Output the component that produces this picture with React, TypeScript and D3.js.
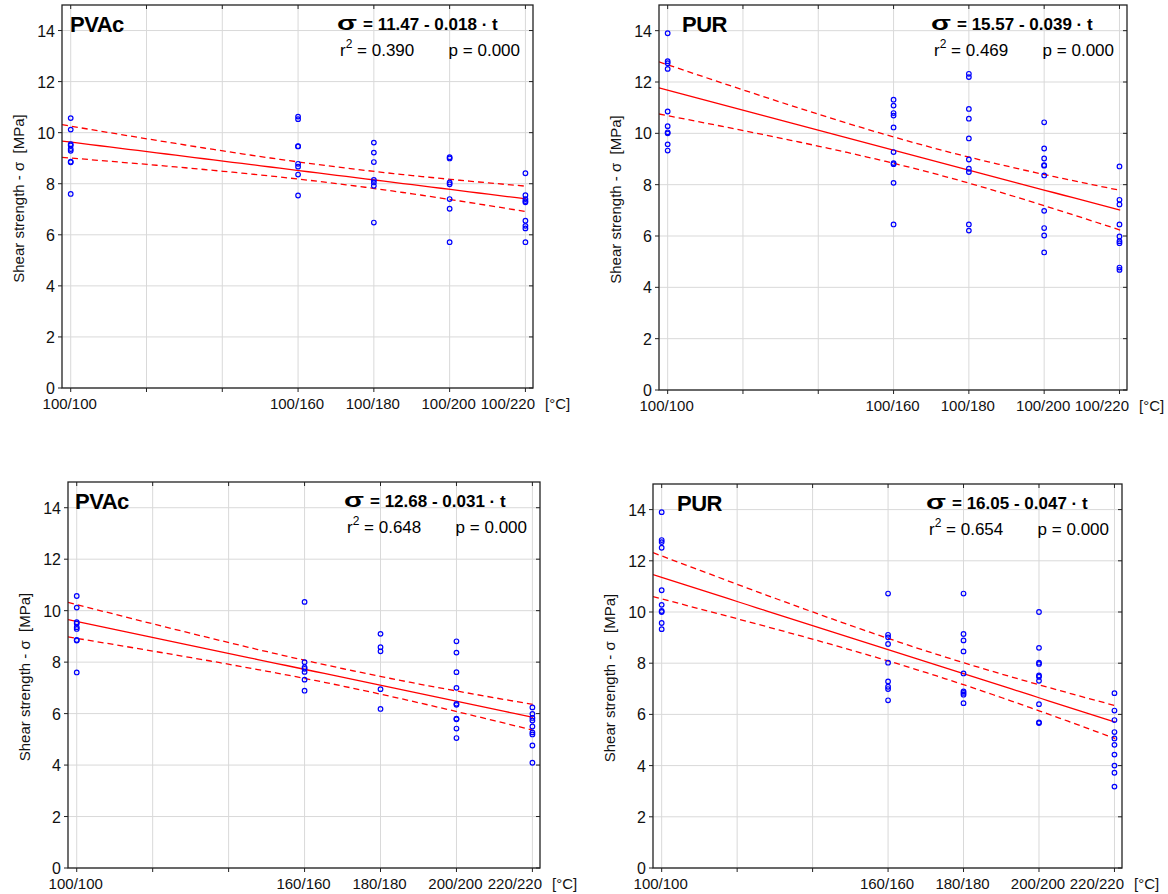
import React from 'react';
import * as d3 from 'd3';

const W = 1168;
const H = 894;
const FONT = '"Liberation Sans", Arial, Helvetica, sans-serif';

// x positions (second temperature, degC) and grid
const temps = [100, 160, 180, 200, 220];
const xGrid = [100, 120, 140, 160, 180, 200, 220];
const yTicks = [0, 2, 4, 6, 8, 10, 12, 14];
const topLabels = ['100/100', '100/160', '100/180', '100/200', '100/220'];
const bottomLabels = ['100/100', '160/160', '180/180', '200/200', '220/220'];

// control samples (100/100)
const pvacControl = [10.57, 10.12, 9.55, 9.5, 9.36, 9.29, 8.86, 8.84, 7.6];
const purControl = [13.9, 12.81, 12.73, 12.51, 10.85, 10.28, 10.04, 10.0, 9.57, 9.33];

// PVAc, 100/t
const pvacTop = [
  pvacControl,
  [10.63, 10.53, 9.47, 9.46, 8.78, 8.67, 8.36, 7.54],
  [9.61, 9.22, 8.85, 8.15, 8.05, 7.92, 6.48],
  [9.04, 8.99, 8.05, 7.98, 7.4, 7.02, 5.71],
  [8.41, 7.55, 7.4, 7.32, 7.27, 6.55, 6.35, 6.25, 5.71],
];
// PUR, 100/t
const purTop = [
  purControl,
  [11.31, 11.08, 10.79, 10.69, 10.23, 9.27, 8.84, 8.8, 8.07, 6.45],
  [12.32, 12.19, 10.95, 10.57, 9.8, 8.98, 8.62, 8.49, 6.45, 6.21],
  [10.43, 9.41, 9.02, 8.76, 8.74, 8.36, 6.98, 6.31, 6.02, 5.36],
  [8.71, 7.41, 7.23, 6.45, 5.98, 5.8, 5.72, 4.77, 4.68],
];
// PVAc, t/t
const pvacBottom = [
  pvacControl,
  [10.34, 8.0, 7.8, 7.74, 7.62, 7.32, 6.89],
  [9.1, 8.58, 8.42, 6.95, 6.18],
  [8.81, 8.37, 7.61, 7.0, 6.38, 6.34, 5.8, 5.78, 5.42, 5.05],
  [6.24, 5.99, 5.83, 5.73, 5.5, 5.27, 5.19, 4.76, 4.09],
];
// PUR, t/t
const purBottom = [
  purControl,
  [10.72, 9.11, 9.01, 8.75, 8.02, 7.29, 7.08, 6.99, 6.55],
  [10.72, 9.14, 8.89, 8.46, 7.6, 6.9, 6.84, 6.77, 6.44],
  [10.0, 8.6, 8.02, 7.97, 7.52, 7.47, 7.31, 6.4, 5.69, 5.66],
  [6.83, 6.15, 5.78, 5.31, 5.06, 4.81, 4.43, 4.0, 3.72, 3.18],
];

// fitted line sigma = a + b*t (as drawn)
const intercepts = [11.48, 15.57, 12.68, 16.05];
const slopes = [-0.0185, -0.0389, -0.031, -0.047];

const titles = ['PVAc', 'PUR', 'PVAc', 'PUR'];
const equations = ['= 11.47 - 0.018 \u00b7 t', '= 15.57 - 0.039 \u00b7 t', '= 12.68 - 0.031 \u00b7 t', '= 16.05 - 0.047 \u00b7 t'];
const r2Values = ['0.390', '0.469', '0.648', '0.654'];
const pValues = ['0.000', '0.000', '0.000', '0.000'];

type Box = { l: number; r: number; t: number; b: number; titleDx: number };

const boxes: Box[] = [
  { l: 62, r: 533, t: 5, b: 388, titleDx: 8 },
  { l: 659, r: 1127, t: 5, b: 390, titleDx: 23 },
  { l: 68, r: 540, t: 482, b: 868, titleDx: 7 },
  { l: 653, r: 1122, t: 484, b: 868, titleDx: 24 },
];

// 95% confidence band around the line, from the residuals
function band(groups: number[][], a: number, b: number) {
  const xs: number[] = [];
  const ys: number[] = [];
  groups.forEach((g, i) => g.forEach(v => { xs.push(temps[i]); ys.push(v); }));
  const n = xs.length;
  const mx = d3.mean(xs)!;
  const sxx = d3.sum(xs, v => (v - mx) ** 2);
  const sse = d3.sum(xs, (v, i) => (ys[i] - (a + b * v)) ** 2);
  const s = Math.sqrt(sse / (n - 2));
  const tc = 2.01;
  return (xv: number) => tc * s * Math.sqrt(1 / n + (xv - mx) ** 2 / sxx);
}

function Panel({ idx, groups, labels }: { idx: number; groups: number[][]; labels: string[] }) {
  const box = boxes[idx];
  const x = d3.scaleLinear().domain([97.7, 222]).range([box.l, box.r]);
  const y = d3.scaleLinear().domain([0, 15]).range([box.b, box.t]);
  const a = intercepts[idx];
  const b = slopes[idx];
  const fit = (t: number) => a + b * t;
  const half = band(groups, a, b);
  const xs = d3.range(97.7, 222.01, 2.5);
  const fitPath = d3.line<number>().x(d => x(d)).y(d => y(fit(d)))(xs)!;
  const upPath = d3.line<number>().x(d => x(d)).y(d => y(fit(d) + half(d)))(xs)!;
  const loPath = d3.line<number>().x(d => x(d)).y(d => y(fit(d) - half(d)))(xs)!;
  const clipId = `clip${idx}`;
  const midY = (box.t + box.b) / 2;

  return (
    <g>
      <defs>
        <clipPath id={clipId}>
          <rect x={box.l} y={box.t} width={box.r - box.l} height={box.b - box.t} />
        </clipPath>
      </defs>
      {/* grid */}
      {xGrid.map(v => (
        <line key={'gx' + v} x1={x(v)} x2={x(v)} y1={box.t} y2={box.b} stroke="#d9d9d9" strokeWidth={1} />
      ))}
      {yTicks.map(v => (
        <line key={'gy' + v} x1={box.l} x2={box.r} y1={y(v)} y2={y(v)} stroke="#d9d9d9" strokeWidth={1} />
      ))}
      {/* regression & confidence band */}
      <g clipPath={`url(#${clipId})`} fill="none" stroke="#ff0000" strokeWidth={1.3}>
        <path d={fitPath} />
        <path d={upPath} strokeDasharray="6,4" />
        <path d={loPath} strokeDasharray="6,4" />
      </g>
      {/* points */}
      {groups.map((g, i) =>
        g.map((v, j) => (
          <circle key={`p${i}-${j}`} cx={x(temps[i])} cy={y(v)} r={2.3} fill="none" stroke="#0000ff" strokeWidth={1.2} />
        ))
      )}
      {/* frame */}
      <rect x={box.l} y={box.t} width={box.r - box.l} height={box.b - box.t} fill="none" stroke="#222" strokeWidth={1.3} />
      {/* ticks */}
      {yTicks.map(v => (
        <g key={'ty' + v}>
          <line x1={box.l - 4} x2={box.l} y1={y(v)} y2={y(v)} stroke="#222" />
          <line x1={box.r - 4} x2={box.r} y1={y(v)} y2={y(v)} stroke="#222" />
          <text x={box.l - 7} y={y(v) + 6} textAnchor="end" fontSize={16} fontFamily={FONT} fill="#111">{v}</text>
        </g>
      ))}
      {xGrid.map(v => (
        <g key={'tx' + v}>
          <line x1={x(v)} x2={x(v)} y1={box.b} y2={box.b + 4} stroke="#222" />
          <line x1={x(v)} x2={x(v)} y1={box.t} y2={box.t + 4} stroke="#222" />
        </g>
      ))}
      {temps.map((t, i) => {
        const last = i === temps.length - 1;
        return (
          <text key={'lx' + t} x={last ? box.r + 2 : x(t) - 1} y={box.b + 21} textAnchor={last ? 'end' : 'middle'}
            fontSize={15} fontFamily={FONT} fill="#111">{labels[i]}</text>
        );
      })}
      <text x={box.r + 12} y={box.b + 21} fontSize={15} fontFamily={FONT} fill="#111">[°C]</text>
      {/* y axis title */}
      <text transform={`translate(${box.l - 38},${midY + 2}) rotate(-90)`} textAnchor="middle" fontSize={15}
        fontFamily={FONT} fill="#111">{'Shear strength - \u03c3\u00a0\u00a0[MPa]'}</text>
      {/* panel title */}
      <text x={box.l + box.titleDx} y={box.t + 27} fontSize={22} fontWeight="bold" fontFamily={FONT} fill="#000"
        letterSpacing={-0.5}>{titles[idx]}</text>
      {/* equation */}
      <text x={box.r - 196} y={box.t + 25} fontSize={20} fontWeight="bold" fontFamily={FONT} fill="#000"
        textLength={20} lengthAdjust="spacingAndGlyphs">σ</text>
      <text x={box.r - 170} y={box.t + 25} fontSize={17} fontWeight="bold" fontFamily={FONT} fill="#000">
        {equations[idx]}
      </text>
      <text x={box.r - 193} y={box.t + 51} fontSize={17} fontFamily={FONT} fill="#000">
        r<tspan fontSize={12} dy={-8}>2</tspan><tspan dy={8}> = {r2Values[idx]}</tspan>
      </text>
      <text x={box.r - 13} y={box.t + 51} textAnchor="end" fontSize={17} fontFamily={FONT} fill="#000">
        p = {pValues[idx]}
      </text>
    </g>
  );
}

export default function App() {
  return (
    <svg width={W} height={H} style={{ position: 'absolute', left: 0, top: 0, background: '#fff' }}>
      <rect width={W} height={H} fill="#fff" />
      <Panel idx={0} groups={pvacTop} labels={topLabels} />
      <Panel idx={1} groups={purTop} labels={topLabels} />
      <Panel idx={2} groups={pvacBottom} labels={bottomLabels} />
      <Panel idx={3} groups={purBottom} labels={bottomLabels} />
    </svg>
  );
}
